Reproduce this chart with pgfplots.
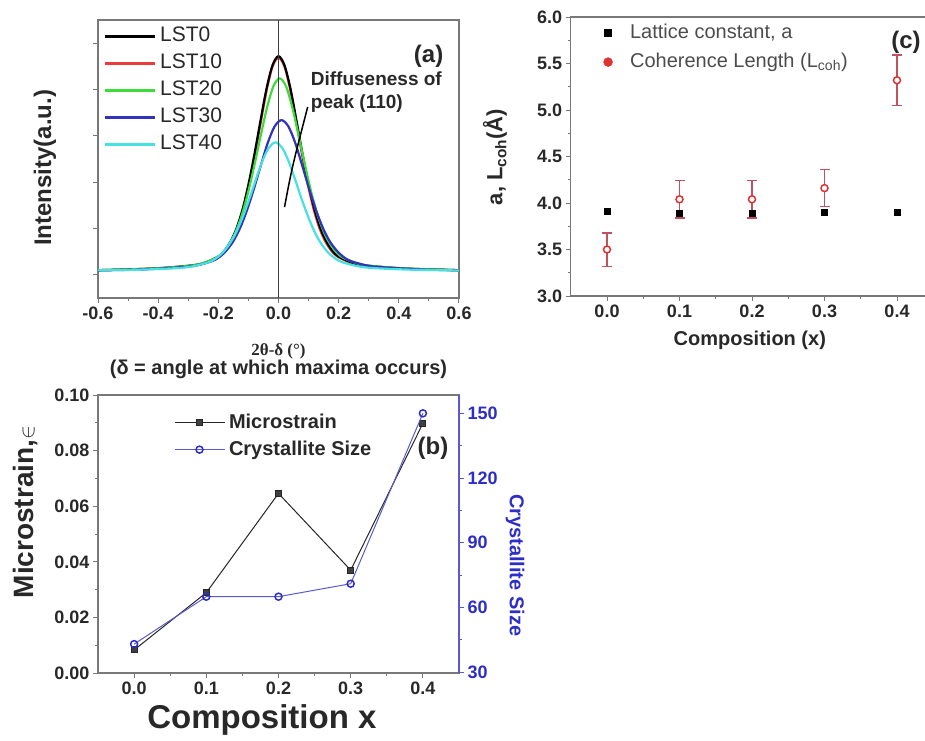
\documentclass[border=0pt]{standalone}
\usepackage{pgfplots}
\pgfplotsset{compat=1.18}
\usepackage{fontspec}
\setmainfont{Liberation Sans}
\newfontfamily\seriffont{Liberation Serif}
\definecolor{axgray}{RGB}{120,120,120}
\definecolor{txt}{RGB}{40,40,40}
\definecolor{lred}{RGB}{235,60,60}
\definecolor{lgreen}{RGB}{60,220,60}
\definecolor{lblue}{RGB}{50,50,190}
\definecolor{lcyan}{RGB}{70,225,225}
\definecolor{bblue}{RGB}{90,90,205}
\definecolor{tblue}{RGB}{45,45,200}
\definecolor{cred}{RGB}{225,50,50}
\definecolor{ebred}{RGB}{195,80,95}
\pgfplotsset{
  panel/.style={
    scale only axis,
    axis line style={axgray, line width=1.2pt},
    tick style={axgray, line width=1pt},
    major tick length=5pt, minor tick length=3pt,
    tick align=outside, xtick pos=bottom, ytick pos=left,
    /pgf/number format/assume math mode=true,
    ticklabel style={text=txt, font=\bfseries\fontsize{18}{20}\selectfont},
    label style={text=txt},
    legend style={draw=none, fill=none},
  },
}
\begin{document}
\begin{tikzpicture}
\clip[use as bounding box] (0pt,0pt) rectangle (925pt,-740pt);

% ---------------- panel (a)
\begin{axis}[panel,
  at={(98pt,-298pt)}, anchor=south west, width=361pt, height=278pt,
  xmin=-0.6, xmax=0.6, ymin=0, ymax=1,
  xtick={-0.6,-0.4,-0.2,0,0.2,0.4,0.6}, minor x tick num=1,
  ytick={0.083,0.25,0.417,0.583,0.75,0.917}, yticklabels={},
  xticklabel style={/pgf/number format/.cd, fixed, fixed zerofill, precision=1},
  xlabel={{\seriffont\bfseries\fontsize{17}{20}\selectfont 2θ-δ (°)}\\{\bfseries\fontsize{20}{22}\selectfont (δ = angle at which maxima occurs)}},
  xlabel style={align=center, at={(axis description cs:0.5,-0.15)}, anchor=north},
  ylabel={Intensity(a.u.)},
  ylabel style={font=\bfseries\fontsize{24}{26}\selectfont, at={(axis description cs:-0.147,0.468)}, anchor=center},
  legend style={at={(axis description cs:0.015,0.99)}, anchor=north west,
    font=\fontsize{21}{24}\selectfont, text=txt, inner sep=0pt,
    nodes={text height=15pt, text depth=4pt, inner sep=4pt}, row sep=0pt},
  legend cell align=left,
  legend image code/.code={\draw[#1] (0pt,0pt) -- (50pt,0pt);},
]
\addlegendimage{black, line width=2.5pt}\addlegendentry{LST0}
\addlegendimage{lred, line width=2.5pt}\addlegendentry{LST10}
\addlegendimage{lgreen, line width=2.5pt}\addlegendentry{LST20}
\addlegendimage{lblue, line width=2.5pt}\addlegendentry{LST30}
\addlegendimage{lcyan, line width=2.5pt}\addlegendentry{LST40}
% LST10
\addplot[lred, line width=2.2pt, smooth, forget plot] coordinates {
(-0.6,0.100)(-0.49,0.103)(-0.392,0.107)(-0.294,0.115)(-0.245,0.125)(-0.196,0.149)
(-0.1764,0.169)(-0.1568,0.201)(-0.1372,0.248)(-0.1176,0.316)(-0.098,0.406)(-0.0784,0.515)
(-0.0588,0.633)(-0.0392,0.748)(-0.0196,0.833)(0,0.865)(0.0196,0.833)(0.0392,0.748)
(0.0588,0.633)(0.0784,0.515)(0.098,0.406)(0.1176,0.316)(0.1372,0.248)(0.1568,0.201)
(0.1764,0.169)(0.196,0.149)(0.245,0.125)(0.294,0.115)(0.392,0.107)(0.49,0.103)(0.6,0.100)};
% LST0
\addplot[black, line width=2.2pt, smooth, forget plot] coordinates {
(-0.6,0.100)(-0.5,0.103)(-0.4,0.107)(-0.3,0.116)(-0.25,0.125)(-0.2,0.149)
(-0.18,0.169)(-0.16,0.2016)(-0.14,0.249)(-0.12,0.317)(-0.1,0.408)(-0.08,0.517)
(-0.06,0.637)(-0.04,0.752)(-0.02,0.837)(0,0.870)(0.02,0.837)(0.04,0.752)
(0.06,0.637)(0.08,0.517)(0.1,0.408)(0.12,0.317)(0.14,0.249)(0.16,0.2016)
(0.18,0.169)(0.2,0.149)(0.25,0.125)(0.3,0.116)(0.4,0.107)(0.5,0.103)(0.6,0.100)};
% LST20
\addplot[lgreen, line width=2.2pt, smooth, forget plot] coordinates {
(-0.632,0.100)(-0.526,0.102)(-0.42,0.106)(-0.314,0.114)(-0.261,0.122)(-0.208,0.144)
(-0.1868,0.162)(-0.1656,0.191)(-0.1444,0.233)(-0.1232,0.294)(-0.102,0.376)(-0.0808,0.474)
(-0.0596,0.581)(-0.0384,0.684)(-0.0172,0.761)(0.004,0.790)(0.0252,0.761)(0.0464,0.684)
(0.0676,0.581)(0.0888,0.474)(0.110,0.376)(0.1312,0.294)(0.1524,0.233)(0.1736,0.191)
(0.1948,0.162)(0.216,0.144)(0.269,0.122)(0.322,0.114)(0.428,0.106)(0.534,0.102)(0.64,0.100)};
% LST30
\addplot[lblue, line width=2.2pt, smooth, forget plot] coordinates {
(-0.68,0.099)(-0.565,0.100)(-0.45,0.103)(-0.335,0.110)(-0.2775,0.116)(-0.220,0.133)
(-0.197,0.147)(-0.174,0.170)(-0.151,0.203)(-0.128,0.251)(-0.105,0.315)(-0.082,0.392)
(-0.059,0.476)(-0.036,0.557)(-0.013,0.617)(0.010,0.640)(0.033,0.617)(0.056,0.557)
(0.079,0.476)(0.102,0.392)(0.125,0.315)(0.148,0.251)(0.171,0.203)(0.194,0.170)
(0.217,0.147)(0.240,0.133)(0.2975,0.116)(0.355,0.110)(0.470,0.103)(0.585,0.100)(0.700,0.099)};
% LST40
\addplot[lcyan, line width=2.2pt, smooth, forget plot] coordinates {
(-0.682,0.098)(-0.57,0.100)(-0.458,0.102)(-0.346,0.107)(-0.29,0.113)(-0.234,0.128)
(-0.2116,0.140)(-0.1892,0.159)(-0.1668,0.188)(-0.1444,0.228)(-0.122,0.283)(-0.0996,0.348)
(-0.0772,0.420)(-0.0548,0.489)(-0.0324,0.540)(-0.010,0.560)(0.0124,0.540)(0.0348,0.489)
(0.0572,0.420)(0.0796,0.348)(0.102,0.283)(0.1244,0.228)(0.1468,0.188)(0.1692,0.159)
(0.1916,0.140)(0.214,0.128)(0.27,0.113)(0.326,0.107)(0.438,0.102)(0.55,0.100)(0.662,0.098)};
\draw[black!75, line width=1pt] (axis cs:0,0) -- (axis cs:0,1);
\draw[black, line width=1.5pt] (axis cs:0.02,0.327) .. controls (axis cs:0.045,0.47) .. (axis cs:0.097,0.687);
\node[anchor=north west, align=left, text=txt, font=\bfseries\fontsize{19}{23}\selectfont]
  at (axis cs:0.096,0.827) {Diffuseness of\\peak (110)};
\node[text=txt, font=\bfseries\fontsize{24}{26}\selectfont] at (axis cs:0.499,0.871) {(a)};
\end{axis}

% ---------------- panel (c)
\begin{axis}[panel,
  at={(570.75pt,-296pt)}, anchor=south west, width=362.5pt, height=279pt,
  xmin=-0.05, xmax=0.45, ymin=3, ymax=6,
  xtick={0,0.1,0.2,0.3,0.4}, minor x tick num=1,
  ytick={3,3.5,4,4.5,5,5.5,6}, minor y tick num=1,
  ticklabel style={/pgf/number format/.cd, fixed, fixed zerofill, precision=1},
  xlabel={Composition (x)},
  xlabel style={font=\bfseries\fontsize{20}{22}\selectfont, at={(axis description cs:0.494,-0.158)}, anchor=center},
  ylabel={a, L\textsubscript{coh}(Å)},
  ylabel style={font=\bfseries\fontsize{22}{24}\selectfont, at={(axis description cs:-0.209,0.498)}, anchor=center},
  legend style={at={(axis description cs:0.09,0.995)}, anchor=north west,
    font=\fontsize{20}{23}\selectfont, text=black!70, inner sep=0pt,
    nodes={text height=15pt, text depth=5pt, inner sep=4.5pt}, row sep=0pt, column sep=13pt},
  legend cell align=left,
  legend image code/.code={\draw[#1] plot coordinates {(0pt,0pt)};},
]
\addlegendimage{only marks, mark=square*, black, mark size=3.5pt}\addlegendentry{Lattice constant, a}
\addlegendimage{only marks, mark=*, cred, mark size=4.5pt}\addlegendentry{Coherence Length (L\textsubscript{coh})}
\addplot[only marks, mark=square*, mark size=3pt, black, forget plot] coordinates {
(0,3.91)(0.1,3.89)(0.2,3.89)(0.3,3.90)(0.4,3.90)};
\addplot[only marks, mark=*, mark size=3.5pt, cred, forget plot,
  mark options={fill=white, draw=cred, line width=1.5pt},
  error bars/.cd, y dir=both, y explicit,
  error bar style={ebred, line width=1.5pt},
  error mark options={ebred, mark size=5pt, line width=1.5pt, rotate=90}] coordinates {
(0,3.50) +- (0,0.18)
(0.1,4.04) +- (0,0.20)
(0.2,4.04) +- (0,0.20)
(0.3,4.16) +- (0,0.20)
(0.4,5.32) +- (0,0.27)};
\node[text=txt, font=\bfseries\fontsize{24}{26}\selectfont] at (axis description cs:0.925,0.91) {(c)};
\end{axis}

% ---------------- panel (b), left axis
\begin{axis}[panel,
  at={(98pt,-673pt)}, anchor=south west, width=361pt, height=278pt,
  xmin=-0.05, xmax=0.45, ymin=0, ymax=0.1,
  xtick={0,0.1,0.2,0.3,0.4}, minor x tick num=1,
  ytick={0,0.02,0.04,0.06,0.08,0.1}, minor y tick num=1,
  xticklabel style={/pgf/number format/.cd, fixed, fixed zerofill, precision=1},
  yticklabel style={/pgf/number format/.cd, fixed, fixed zerofill, precision=2},
  xlabel={Composition x},
  xlabel style={font=\bfseries\fontsize{33}{35}\selectfont, at={(axis description cs:0.454,-0.169)}, anchor=center},
  ylabel={Microstrain,{\mdseries\fontsize{20}{22}\selectfont$\in$}},
  ylabel style={font=\bfseries\fontsize{28}{30}\selectfont, at={(axis description cs:-0.2,0.579)}, anchor=center},
  legend style={at={(axis description cs:0.21,0.95)}, anchor=north west,
    font=\bfseries\fontsize{20}{23}\selectfont, text=txt, inner sep=0pt,
    nodes={text height=15pt, text depth=4pt, inner sep=4pt}, row sep=0pt},
  legend cell align=left,
  legend image code/.code={\draw[mark repeat=2,mark phase=2,#1] plot coordinates {(0pt,0pt) (25pt,0pt) (50pt,0pt)};},
]
\addplot[black!85, line width=1pt, mark=square*, mark size=3pt, mark options={fill=black!75}] coordinates {
(0,0.0083)(0.1,0.0289)(0.2,0.0646)(0.3,0.037)(0.4,0.0898)};
\addlegendentry{Microstrain}
\addlegendimage{bblue, line width=1pt, mark=o, mark size=3.5pt, mark options={line width=1.5pt, tblue}}
\addlegendentry{Crystallite Size}
\node[text=txt, font=\bfseries\fontsize{24}{26}\selectfont] at (axis description cs:0.928,0.809) {(b)};
\end{axis}

% ---------------- panel (b), right axis
\begin{axis}[panel,
  at={(98pt,-673pt)}, anchor=south west, width=361pt, height=278pt,
  xmin=-0.05, xmax=0.45, ymin=29.6, ymax=158.5,
  axis x line=none, axis y line*=right, ytick pos=right,
  y axis line style={bblue, line width=1.2pt},
  ytick style={bblue, line width=1pt},
  ytick={30,60,90,120,150}, minor y tick num=1,
  yticklabel style={text=tblue},
  ylabel={Crystallite Size},
  ylabel style={font=\bfseries\fontsize{20}{22}\selectfont, text=tblue, at={(axis description cs:1.155,0.388)}, anchor=center, rotate=180},
]
\addplot[bblue, line width=1pt, mark=o, mark size=3.5pt, mark options={line width=1.5pt, tblue}] coordinates {
(0,43)(0.1,65)(0.2,65)(0.3,71)(0.4,150)};
\end{axis}
\end{tikzpicture}
\end{document}
